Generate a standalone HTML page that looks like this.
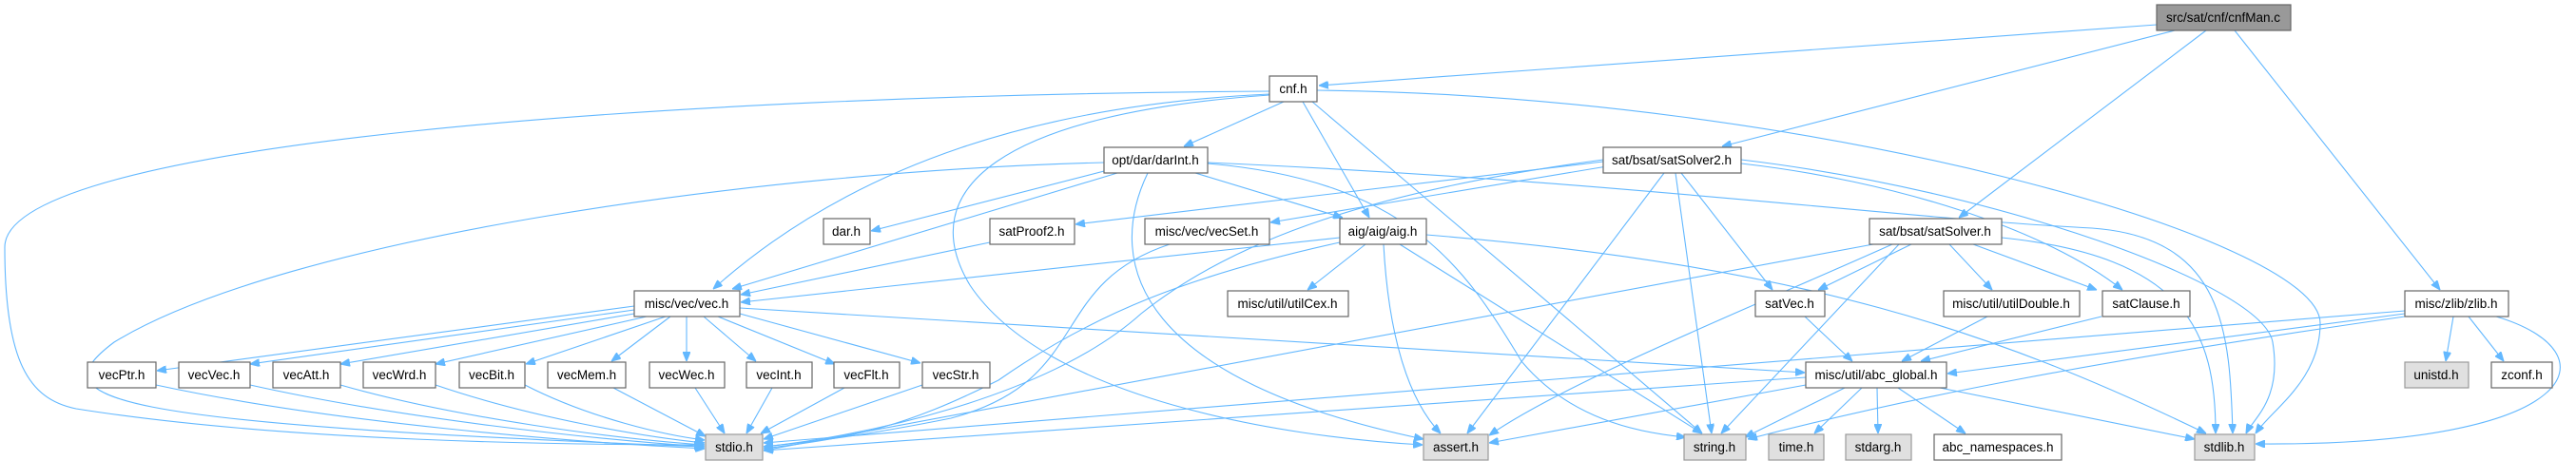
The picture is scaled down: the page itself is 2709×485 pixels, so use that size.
<!DOCTYPE html>
<html><head><meta charset="utf-8"><style>
html,body{margin:0;padding:0;background:#fff;}
svg{display:block;}
text{font-family:"Liberation Sans",Arial,sans-serif;font-size:13.5px;fill:#000;text-anchor:middle;}
.n{fill:#fff;stroke:#666;stroke-width:1.2;}
.g{fill:#e0e0e0;stroke:#999;stroke-width:1.2;}
.r{fill:#999;stroke:#666;stroke-width:1.2;}
path{fill:none;stroke:#63b8ff;stroke-width:1.1;}
</style></head><body>
<svg width="2709" height="485" viewBox="0 0 2709 485" xmlns="http://www.w3.org/2000/svg">
<defs><marker id="a" viewBox="0 0 10 8" refX="10" refY="4" markerWidth="10" markerHeight="8" markerUnits="userSpaceOnUse" orient="auto"><path d="M0,0 L10,4 L0,8 z" style="fill:#63b8ff;stroke:#63b8ff"/></marker></defs>
<g marker-end="url(#a)">
<path d="M2268,26 L1387,90"/>
<path d="M2287,32 L1811,154"/>
<path d="M2320,32 L2060,229"/>
<path d="M2350,32 L2566,305"/>
<path d="M1335,96 C700,100 5,150 5,260 C5,380 30,420 80,430 C300,465 600,468 740,468"/>
<path d="M1335,99 C1100,110 900,170 750,304"/>
<path d="M1350,107 L1245,154"/>
<path d="M1370,107 L1440,229"/>
<path d="M1380,107 L1790,456"/>
<path d="M1335,100 C1050,120 960,200 1020,300 C1100,420 1350,460 1496,468"/>
<path d="M1385,95 C1900,100 2440,250 2440,340 C2440,400 2390,430 2372,456"/>
<path d="M1161,171 C800,180 300,250 120,360 C40,420 100,445 740,470"/>
<path d="M1175,182 L770,304"/>
<path d="M1165,179 L916,243"/>
<path d="M1041,255 L779,310"/>
<path d="M1409,250 L779,318"/>
<path d="M1257,182 L1412,229"/>
<path d="M1207,182 C1160,280 1200,400 1497,462"/>
<path d="M1270,172 C1480,190 1540,280 1600,380 C1650,440 1720,455 1773,460"/>
<path d="M1270,171 C1700,190 2000,230 2200,240 C2340,250 2345,350 2348,456"/>
<path d="M1686,170 L1131,236"/>
<path d="M1690,175 L1336,234"/>
<path d="M1686,168 C1450,200 1300,250 1200,330 C1100,420 900,460 803,470"/>
<path d="M1750,182 L1543,456"/>
<path d="M1762,182 L1800,456"/>
<path d="M1768,182 L1864,305"/>
<path d="M1831,172 C1990,190 2150,240 2232,305"/>
<path d="M1831,168 C2100,200 2380,300 2390,360 C2400,420 2370,440 2362,456"/>
<path d="M1230,257 C1100,300 1150,400 1000,440 C900,460 850,465 803,470"/>
<path d="M1409,255 C1250,290 1150,330 1050,400 C950,450 900,460 803,472"/>
<path d="M1436,257 L1375,305"/>
<path d="M1455,257 C1460,350 1480,420 1515,456"/>
<path d="M1472,257 L1790,456"/>
<path d="M1500,247 C1900,280 2100,350 2320,456"/>
<path d="M1970,257 L803,474"/>
<path d="M1990,257 C1850,320 1650,400 1566,458"/>
<path d="M1997,257 L1810,456"/>
<path d="M2010,257 L1912,305"/>
<path d="M2050,257 L2095,305"/>
<path d="M2075,257 L2205,305"/>
<path d="M2105,250 C2300,270 2330,350 2330,456"/>
<path d="M1898,333 L1948,380"/>
<path d="M2090,333 L2000,380"/>
<path d="M2210,333 L2020,380"/>
<path d="M2529,327 L803,466"/>
<path d="M2529,330 L2048,393"/>
<path d="M2529,333 C2200,380 2000,420 1838,462"/>
<path d="M2580,333 L2572,380"/>
<path d="M2596,333 L2633,380"/>
<path d="M2625,333 C2750,370 2720,470 2372,467"/>
<path d="M1899,397 L803,474"/>
<path d="M1899,405 L1566,466"/>
<path d="M1940,408 L1835,460"/>
<path d="M1958,408 L1908,456"/>
<path d="M1974,408 L1975,456"/>
<path d="M1996,408 L2067,456"/>
<path d="M2040,408 L2308,462"/>
<path d="M778,324 L1898,392"/>
<path d="M667,322 L165,390"/>
<path d="M667,326 L263,383"/>
<path d="M667,330 L358,383"/>
<path d="M680,333 L458,383"/>
<path d="M700,333 L553,383"/>
<path d="M705,333 L643,380"/>
<path d="M722,333 L722,380"/>
<path d="M740,333 L795,380"/>
<path d="M755,333 L878,383"/>
<path d="M778,330 L968,382"/>
<path d="M164,405 C350,445 600,465 741,472"/>
<path d="M263,405 C420,440 620,462 741,470"/>
<path d="M358,405 C480,440 650,462 741,468"/>
<path d="M458,405 C560,440 680,460 741,466"/>
<path d="M552,405 C620,440 700,458 741,463"/>
<path d="M645,408 L742,459"/>
<path d="M731,408 L762,456"/>
<path d="M812,408 L785,456"/>
<path d="M888,408 L800,456"/>
<path d="M970,405 L803,462"/>
</g>
<rect class="r" x="2268" y="5" width="141" height="27"/><text x="2338" y="23">src/sat/cnf/cnfMan.c</text>
<rect class="n" x="1335" y="80" width="50" height="27"/><text x="1360" y="98">cnf.h</text>
<rect class="n" x="1161" y="155" width="109" height="27"/><text x="1215" y="173">opt/dar/darInt.h</text>
<rect class="n" x="1686" y="155" width="145" height="27"/><text x="1758" y="173">sat/bsat/satSolver2.h</text>
<rect class="n" x="866" y="230" width="49" height="27"/><text x="890" y="248">dar.h</text>
<rect class="n" x="1041" y="230" width="89" height="27"/><text x="1085" y="248">satProof2.h</text>
<rect class="n" x="1204" y="230" width="131" height="27"/><text x="1269" y="248">misc/vec/vecSet.h</text>
<rect class="n" x="1409" y="230" width="91" height="27"/><text x="1454" y="248">aig/aig/aig.h</text>
<rect class="n" x="1966" y="230" width="139" height="27"/><text x="2035" y="248">sat/bsat/satSolver.h</text>
<rect class="n" x="667" y="306" width="111" height="27"/><text x="722" y="324">misc/vec/vec.h</text>
<rect class="n" x="1291" y="306" width="127" height="27"/><text x="1354" y="324">misc/util/utilCex.h</text>
<rect class="n" x="1846" y="306" width="73" height="27"/><text x="1882" y="324">satVec.h</text>
<rect class="n" x="2044" y="306" width="143" height="27"/><text x="2115" y="324">misc/util/utilDouble.h</text>
<rect class="n" x="2211" y="306" width="92" height="27"/><text x="2257" y="324">satClause.h</text>
<rect class="n" x="2529" y="306" width="109" height="27"/><text x="2583" y="324">misc/zlib/zlib.h</text>
<rect class="n" x="92" y="381" width="72" height="27"/><text x="128" y="399">vecPtr.h</text>
<rect class="n" x="188" y="381" width="75" height="27"/><text x="225" y="399">vecVec.h</text>
<rect class="n" x="287" y="381" width="71" height="27"/><text x="322" y="399">vecAtt.h</text>
<rect class="n" x="382" y="381" width="76" height="27"/><text x="420" y="399">vecWrd.h</text>
<rect class="n" x="483" y="381" width="69" height="27"/><text x="517" y="399">vecBit.h</text>
<rect class="n" x="576" y="381" width="82" height="27"/><text x="617" y="399">vecMem.h</text>
<rect class="n" x="683" y="381" width="79" height="27"/><text x="722" y="399">vecWec.h</text>
<rect class="n" x="785" y="381" width="69" height="27"/><text x="819" y="399">vecInt.h</text>
<rect class="n" x="877" y="381" width="69" height="27"/><text x="911" y="399">vecFlt.h</text>
<rect class="n" x="970" y="381" width="71" height="27"/><text x="1005" y="399">vecStr.h</text>
<rect class="n" x="1899" y="381" width="148" height="27"/><text x="1973" y="399">misc/util/abc_global.h</text>
<rect class="g" x="2529" y="381" width="67" height="27"/><text x="2562" y="399">unistd.h</text>
<rect class="n" x="2620" y="381" width="64" height="27"/><text x="2652" y="399">zconf.h</text>
<rect class="g" x="742" y="457" width="60" height="27"/><text x="772" y="475">stdio.h</text>
<rect class="g" x="1497" y="457" width="68" height="27"/><text x="1531" y="475">assert.h</text>
<rect class="g" x="1771" y="457" width="65" height="27"/><text x="1803" y="475">string.h</text>
<rect class="g" x="1860" y="457" width="58" height="27"/><text x="1889" y="475">time.h</text>
<rect class="g" x="1941" y="457" width="69" height="27"/><text x="1975" y="475">stdarg.h</text>
<rect class="n" x="2034" y="457" width="134" height="27"/><text x="2101" y="475">abc_namespaces.h</text>
<rect class="g" x="2308" y="457" width="63" height="27"/><text x="2339" y="475">stdlib.h</text>
</svg>
</body></html>
